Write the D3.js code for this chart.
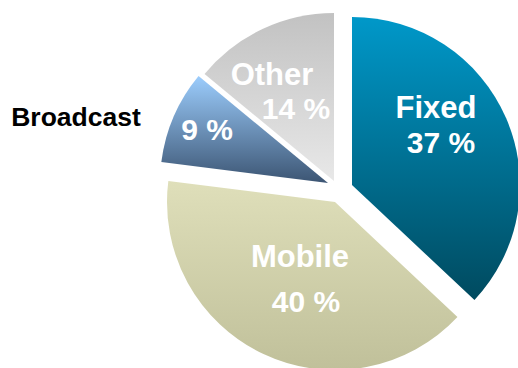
<!DOCTYPE html>
<html>
<head>
<meta charset="utf-8">
<script src="https://cdn.jsdelivr.net/npm/d3@7"></script>
<style>
  body { margin: 0; background: #fff; }
  text { font-family: "Liberation Sans", Arial, sans-serif; font-weight: bold; }
</style>
</head>
<body>
<svg id="chart" width="518" height="368"></svg>
<script>
// Market shares by access type (percent)
const categories = ["Fixed", "Mobile", "Broadcast", "Other"];
const shares = [37, 40, 9, 14];

// Styling: vertical gradient stops per slice (top, bottom)
const gradTop = ["#0098c9", "#dfdfba", "#9ccdfd", "#c2c2c2"];
const gradBottom = ["#004a5f", "#c0c09a", "#3c5573", "#e8e8e8"];

const width = 518, height = 368;
const cx = 334, cy = 183, radius = 168;

// Per-slice explode offsets (px)
const explode = [[18, 2], [1, 19], [-6, 0], [0, -2]];

// Label placement relative to the pie centre: [name dx, name dy, pct dx, pct dy]
const labelPos = [
  [102, -65, 107, -30],
  [-34, 84, -28, 129],
  [-258, -57, -127, -43],
  [-62, -98, -38, -64]
];
const nameInside = [true, true, false, true];

const svg = d3.select("#chart");
const defs = svg.append("defs");

categories.forEach((c, i) => {
  const g = defs.append("linearGradient")
    .attr("id", "grad" + i)
    .attr("x1", 0).attr("y1", 0).attr("x2", 0).attr("y2", 1);
  g.append("stop").attr("offset", "0%").attr("stop-color", gradTop[i]);
  g.append("stop").attr("offset", "100%").attr("stop-color", gradBottom[i]);
});

const data = categories.map((c, i) => ({ name: c, value: shares[i], i }));

const pie = d3.pie().sort(null).value(d => d.value);
const arc = d3.arc().innerRadius(0).outerRadius(radius);

const root = svg.append("g").attr("transform", `translate(${cx},${cy})`);

root.selectAll("path.slice")
  .data(pie(data))
  .join("path")
  .attr("class", "slice")
  .attr("transform", d => `translate(${explode[d.data.i][0]},${explode[d.data.i][1]})`)
  .attr("d", arc)
  .attr("fill", d => `url(#grad${d.data.i})`);

// Labels
data.forEach(d => {
  const p = labelPos[d.i];
  root.append("text")
    .attr("x", p[0]).attr("y", p[1])
    .attr("text-anchor", "middle")
    .attr("font-size", nameInside[d.i] ? 31 : 26.5)
    .attr("fill", nameInside[d.i] ? "#ffffff" : "#000000")
    .text(d.name);
  root.append("text")
    .attr("x", p[2]).attr("y", p[3])
    .attr("text-anchor", "middle")
    .attr("font-size", 30)
    .attr("fill", "#ffffff")
    .text(d.value + " %");
});
</script>
</body>
</html>
